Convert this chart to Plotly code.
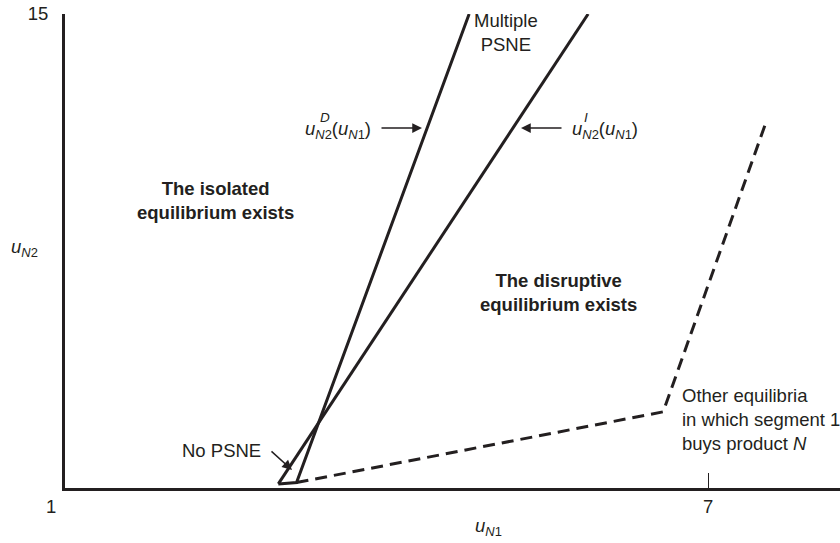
import plotly.graph_objects as go

# ---- data ----
d_line_x = [2.99, 3.16, 4.77]      # u^D_N2(u_N1) boundary (with base of No-PSNE triangle)
d_line_y = [1.12, 1.16, 15.0]
i_line_x = [2.99, 5.88]            # u^I_N2(u_N1)
i_line_y = [1.12, 15.0]
other_x = [3.16, 6.58, 7.53]       # other equilibria (dashed)
other_y = [1.16, 3.25, 11.72]

x_tick_vals = [7]
x_tick_text = ["7"]
y_tick_vals = [15]
y_tick_text = ["15"]

INK = "#231f20"
FONT = "Liberation Sans, Arial, Helvetica, sans-serif"
FS = 18.5

L, R, T, B = 65, 0, 14, 55
W, H = 840, 543
PW, PH = W - L - R, H - T - B


def px(xp, yp):
    """pixel -> paper coordinates (for text placement only)"""
    return (xp - L) / PW, (H - B - yp) / PH


fig = go.Figure()
fig.add_trace(go.Scatter(x=d_line_x, y=d_line_y, mode="lines",
                         line=dict(color=INK, width=3), hoverinfo="skip"))
fig.add_trace(go.Scatter(x=i_line_x, y=i_line_y, mode="lines",
                         line=dict(color=INK, width=3), hoverinfo="skip"))
fig.add_trace(go.Scatter(x=other_x, y=other_y, mode="lines",
                         line=dict(color=INK, width=3, dash="12px,7px"),
                         hoverinfo="skip"))

ann = []


def text(xp, yp, s, xanchor="center", align="center", size=FS):
    x, y = px(xp, yp)
    ann.append(dict(x=x, y=y, xref="paper", yref="paper", text=s, showarrow=False,
                    xanchor=xanchor, yanchor="middle", align=align,
                    font=dict(family=FONT, size=size, color=INK)))


def arrow(x0, y0, x1, y1):
    x, y = px(x1, y1)
    ann.append(dict(x=x, y=y, xref="paper", yref="paper", text="",
                    showarrow=True, ax=x0 - x1, ay=y0 - y1,
                    arrowhead=2, arrowsize=1.3, arrowwidth=1.5, arrowcolor=INK))


text(506, 33, "Multiple<br>PSNE")
text(215, 200, "<b>The isolated<br>equilibrium exists</b>")
text(558, 292, "<b>The disruptive<br>equilibrium exists</b>")
text(680, 419, "Other equilibria<br>in which segment 1<br>buys product <i>N</i>",
     xanchor="left", align="left")
text(263, 450, "No PSNE", xanchor="right")
arrow(270, 450, 292, 470)

text(373, 130, "<i>u</i><sub><i>N</i>2</sub>(<i>u</i><sub><i>N</i>1</sub>)", xanchor="right")
text(318, 117, "<i>D</i>", xanchor="left", size=13.5)
arrow(380, 128, 422, 128)

text(570, 130, "<i>u</i><sub><i>N</i>2</sub>(<i>u</i><sub><i>N</i>1</sub>)", xanchor="left")
text(582, 117, "<i>I</i>", xanchor="left", size=13.5)
arrow(563, 128, 521, 128)

text(51, 506, "1")
text(24, 248, "<i>u</i><sub><i>N</i>2</sub>")
text(488, 527, "<i>u</i><sub><i>N</i>1</sub>")

fig.update_layout(
    width=W, height=H,
    margin=dict(l=L, r=R, t=T, b=B),
    paper_bgcolor="white", plot_bgcolor="white",
    showlegend=False,
    annotations=ann,
    font=dict(family=FONT, size=FS, color=INK),
    xaxis=dict(range=[1, 1 + PW / 107.2], showgrid=False, zeroline=False,
               showline=True, linecolor=INK, linewidth=3,
               tickvals=x_tick_vals, ticktext=x_tick_text,
               ticks="inside", ticklen=15, tickwidth=1.2, tickcolor=INK,
               tickfont=dict(family=FONT, size=FS, color=INK)),
    yaxis=dict(range=[1, 15], showgrid=False, zeroline=False,
               showline=True, linecolor=INK, linewidth=3,
               tickvals=y_tick_vals, ticktext=y_tick_text,
               ticks="inside", ticklen=15, tickwidth=2, tickcolor=INK,
               ticklabelstandoff=10,
               tickfont=dict(family=FONT, size=FS, color=INK)),
)

fig.write_html("out.html",
               config={"displayModeBar": False},
               post_script="document.body.style.margin='0';"
                           "document.body.style.overflow='hidden';")
